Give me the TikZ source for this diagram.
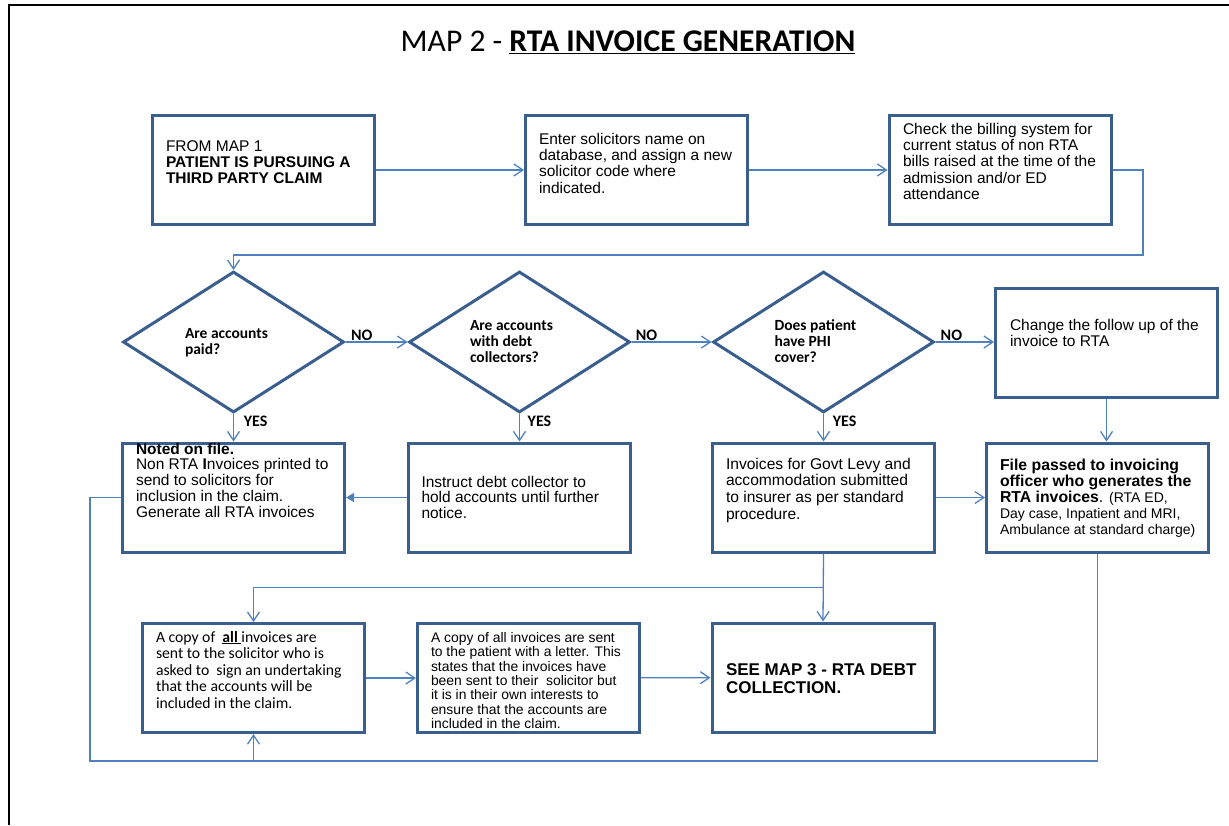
\documentclass[tikz,border=0pt]{standalone}
\usepackage{fontspec}
\setmainfont{Liberation Sans}
\newfontfamily\calibri{Carlito}
\usetikzlibrary{shapes.geometric,arrows.meta}

\definecolor{boxblue}{RGB}{58,95,142}
\definecolor{linkblue}{RGB}{79,129,189}

% a block of text whose first baseline sits on the node's base anchor
\newcommand\textblock[2]{\parbox[t]{300pt}{#1\raggedright #2}}
\newcommand\boxfont{\fontsize{15.5}{16.4}\selectfont}
\newcommand\notefont{\fontsize{13.9}{14.4}\selectfont}
\newcommand\qfont{\calibri\bfseries\fontsize{15.5}{16}\selectfont}
\newcommand\calfont{\calibri\fontsize{15.7}{16.5}\selectfont}

\tikzset{
  stepbox/.style={draw=boxblue, line width=3pt, rectangle, fill=white,
    inner sep=0pt, minimum width=222pt, minimum height=109pt},
  decision/.style={draw=boxblue, line width=3pt, diamond, inner sep=0pt,
    minimum width=221pt, minimum height=141pt},
  boxtext/.style={anchor=base west, inner sep=0pt, outer sep=0pt},
  answer/.style={anchor=base west, inner sep=0pt,
    font=\calibri\bfseries\fontsize{16}{16}\selectfont},
  link/.style={draw=linkblue, line width=1.3pt},
  linkarrow/.style={link, -{Straight Barb[length=9pt,width=12pt]}},
  solidarrow/.style={link, -{Triangle[length=8pt,width=9pt]}},
}

\begin{document}
\begin{tikzpicture}[x=1pt,y=-1pt]
\useasboundingbox (0,0) rectangle (1229,825);

% page frame
\draw[line width=2.3pt] (9,825) -- (9,5) -- (1229,5);

% heading
\node[anchor=base, inner sep=0pt] (title) at (628,51.5)
  {\calibri\fontsize{31.6}{36}\selectfont MAP 2 - \underline{\textbf{RTA INVOICE GENERATION}}};

% process boxes and decisions
\node[stepbox] (a) at (263,170) {};
\node[stepbox] (b) at (636.5,170) {};
\node[stepbox] (c) at (1000,170) {};
\node[decision] (d1) at (233.5,342) {};
\node[decision] (d2) at (519.5,342) {};
\node[decision] (d3) at (823.5,342) {};
\node[stepbox] (e) at (1106.5,342.5) {};
\node[stepbox] (f) at (233.5,497.5) {};
\node[stepbox] (g) at (519,497.5) {};
\node[stepbox] (h) at (823.5,497.5) {};
\node[stepbox] (i) at (1097.5,497.5) {};
\node[stepbox] (j) at (253.5,678) {};
\node[stepbox] (k) at (528.5,678) {};
\node[stepbox] (l) at (823,677.5) {};

% box texts
\node[boxtext] (ta) at (166,151) {\textblock{\boxfont}{FROM MAP 1\\
  \textbf{PATIENT IS PURSUING A}\\\textbf{THIRD PARTY CLAIM}}};
\node[boxtext] (tb) at (539,144) {\textblock{\boxfont}{Enter solicitors name on\\
  database, and assign a new\\solicitor code where\\indicated.}};
\node[boxtext] (tc) at (903,134) {\textblock{\boxfont}{Check the billing system for\\
  current status of non RTA\\bills raised at the time of the\\admission and/or ED\\attendance}};
\node[boxtext] (te) at (1010,330) {\textblock{\boxfont}{Change the follow up of the\\invoice to RTA}};
\node[boxtext] (tf) at (136,454) {\textblock{\fontsize{15.5}{15.9}\selectfont}{\textbf{Noted on file.}\\
  Non RTA \textbf{I}nvoices printed to\\send to solicitors for\\inclusion in the claim.\\Generate all RTA invoices}};
\node[boxtext] (tg) at (421.5,487) {\textblock{\fontsize{15.5}{15.8}\selectfont}{Instruct debt collector to\\
  hold accounts until further\\notice.}};
\node[boxtext] (th) at (726,469) {\textblock{\fontsize{15.6}{16.9}\selectfont}{Invoices for Govt Levy and\\
  accommodation submitted\\to insurer as per standard\\procedure.}};
\node[boxtext] (ti) at (1000,470.5) {\textblock{\fontsize{15.8}{16.1}\selectfont}{\textbf{File passed to invoicing}\\
  \textbf{officer who generates the}\\\textbf{RTA invoices}. {\fontsize{14}{15}\selectfont (RTA ED,}\\
  {\fontsize{14}{15}\selectfont Day case, Inpatient and MRI,}\\
  {\fontsize{14}{15}\selectfont Ambulance at standard charge)}}};
\node[boxtext] (tj) at (156,642) {\textblock{\calfont}{A copy of~ \underline{\textbf{all}\ }invoices are\\
  sent to the solicitor who is\\asked to~ sign an undertaking\\that the accounts will be\\included in the claim.}};
\node[boxtext] (tk) at (431,642.3) {\textblock{\notefont}{A copy of all invoices are sent\\
  to the patient with a letter. This\\states that the invoices have\\been sent to their~ solicitor but\\
  it is in their own interests to\\ensure that the accounts are\\included in the claim.}};
\node[boxtext] (tl) at (726,675) {\textblock{\fontsize{17}{18}\selectfont\bfseries}{SEE MAP 3 - RTA DEBT\\COLLECTION.}};

% decision questions
\node[boxtext] (q1) at (185,338.3) {\textblock{\qfont}{Are accounts\\paid?}};
\node[boxtext] (q2) at (470,330) {\textblock{\qfont}{Are accounts\\with debt\\collectors?}};
\node[boxtext] (q3) at (774.5,330) {\textblock{\qfont}{Does patient\\have PHI\\cover?}};

% answers
\node[answer] (no1) at (351,340.7) {NO};
\node[answer] (no2) at (635.7,340.7) {NO};
\node[answer] (no3) at (940.5,340.7) {NO};
\node[answer] (yes1) at (243.6,426.7) {YES};
\node[answer] (yes2) at (527.5,426.7) {YES};
\node[answer] (yes3) at (832.7,426.7) {YES};

% connectors
\draw[linkarrow] (a) -- (b);
\draw[linkarrow] (b) -- (c);
\coordinate (loopturn) at (1143,255);
\draw[linkarrow] (c.east) -| (loopturn) -| (d1.north);
\draw[linkarrow] (d1.east) -- (d2.west);
\draw[linkarrow] (d2.east) -- (d3.west);
\draw[linkarrow] (d3.east) -- (d3.east -| e.west);
\draw[linkarrow] (d1.south) -- (d1.south |- f.north);
\draw[linkarrow] (d2.south) -- (d2.south |- g.north);
\draw[linkarrow] (d3.south) -- (d3.south |- h.north);
\draw[linkarrow] (e.south) -- (e.south |- i.north);
\draw[solidarrow] (g.west) -- (f.east);
\draw[linkarrow] (h.east) -- (i.west);
\draw[linkarrow] (h.south) -- (l.north);
\path (h.south) ++(0,34) coordinate (split);
\draw[linkarrow] (split) -| (j.north);
\draw[linkarrow] (j) -- (k);
\draw[linkarrow] (k) -- (l);
\coordinate (loopcorner) at (90,761);
\draw[link] (i.south) |- (loopcorner) |- (f.west);
\draw[linkarrow] (j.south |- loopcorner) -- (j.south);
\end{tikzpicture}
\end{document}
